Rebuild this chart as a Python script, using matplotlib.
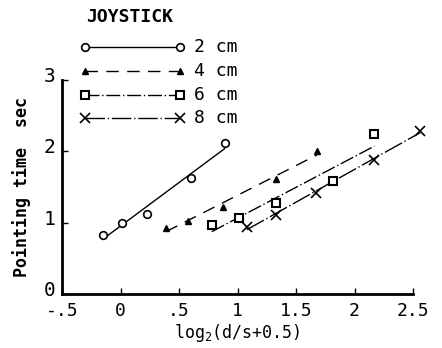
import matplotlib as mpl
mpl.use('Agg')
import matplotlib.pyplot as plt
import matplotlib.transforms as mtransforms
from matplotlib.lines import Line2D
import numpy as np

plt.rcParams['font.family'] = 'DejaVu Sans Mono'
plt.rcParams['mathtext.fontset'] = 'custom'
plt.rcParams['mathtext.rm'] = 'DejaVu Sans Mono'

# data
x_2cm = [-0.15, 0.01, 0.23, 0.60, 0.89]
y_2cm = [0.83, 1.00, 1.12, 1.62, 2.12]
x_4cm = [0.39, 0.58, 0.88, 1.33, 1.68]
y_4cm = [0.93, 1.03, 1.22, 1.61, 2.01]
x_6cm = [0.78, 1.01, 1.33, 1.82, 2.17]
y_6cm = [0.97, 1.07, 1.27, 1.59, 2.24]
x_8cm = [1.08, 1.33, 1.67, 2.17, 2.56]
y_8cm = [0.94, 1.11, 1.42, 1.88, 2.29]

labels = ['2 cm', '4 cm', '6 cm', '8 cm']
xticks = [-0.5, 0, 0.5, 1, 1.5, 2, 2.5]
xticklabels = ['-.5', '0', '.5', '1', '1.5', '2', '2.5']
yticks = [0, 1, 2, 3]

series = [(x_2cm, y_2cm), (x_4cm, y_4cm), (x_6cm, y_6cm), (x_8cm, y_8cm)]
markers = [dict(marker='o', mfc='white', ms=5.5, mew=1.2),
           dict(marker='^', mfc='black', ms=4.5, mew=1.0),
           dict(marker='s', mfc='white', ms=5.5, mew=1.5),
           dict(marker='x', ms=7, mew=1.2)]
styles = ['-', (0, (9, 6)), (0, (10, 2, 1, 2)), (0, (14, 2, 1, 2))]

fig = plt.figure(figsize=(4.42, 3.48), dpi=100)
ax = fig.add_axes([62/442, 54/348, (413-62)/442, (294-80)/348])

for (xs, ys), mk, ls in zip(series, markers, styles):
    xs = np.array(xs)
    ys = np.array(ys)
    k, b = np.polyfit(xs, ys, 1)
    xl = np.array([xs.min(), xs.max()])
    ax.plot(xl, k*xl + b, color='black', lw=1.0, ls=ls, clip_on=False)
    ax.plot(xs, ys, ls='none', color='black', clip_on=False, zorder=3, **mk)

ax.set_xlim(-0.5, 2.5)
ax.set_ylim(0, 3)
ax.set_xticks(xticks)
ax.set_xticklabels(xticklabels)
ax.set_yticks(yticks)
ax.set_yticklabels([str(v) for v in yticks], fontsize=14)
ax.tick_params(direction='in', length=4, width=1)
ax.tick_params(axis='x', pad=6, labelsize=13)
ax.tick_params(axis='y', pad=5)
ax.spines['top'].set_visible(False)
ax.spines['right'].set_visible(False)
ax.spines['left'].set_linewidth(2)
ax.spines['bottom'].set_linewidth(2)

# y labels sit a little above their ticks in the original
shift = mtransforms.ScaledTranslation(0, 4/72, fig.dpi_scale_trans)
for lbl in ax.get_yticklabels():
    lbl.set_transform(lbl.get_transform() + shift)

ax.set_xlabel('log$_\\mathregular{2}$(d/s+0.5)', fontsize=12, labelpad=1)
fig.text(22/442, 1 - 187/348, 'Pointing time  sec', rotation=90,
         fontsize=12, fontweight='bold', ha='center', va='center')

# legend drawn by hand
fig.text(130/442, 1 - 17/348, 'JOYSTICK', fontsize=13, fontweight='bold',
         ha='center', va='center')
rows = [47, 71, 95, 118]
for row, mk, ls, lab in zip(rows, markers, styles, labels):
    yy = 1 - row/348
    fig.add_artist(Line2D([85/442, 178/442], [yy, yy], color='black',
                          lw=1.0, ls=ls))
    fig.add_artist(Line2D([85/442], [yy], ls='none', color='black', **mk))
    fig.add_artist(Line2D([180/442], [yy], ls='none', color='black', **mk))
    fig.text(194/442, yy, lab, fontsize=13, va='center')

fig.savefig('out.png', dpi=100)
